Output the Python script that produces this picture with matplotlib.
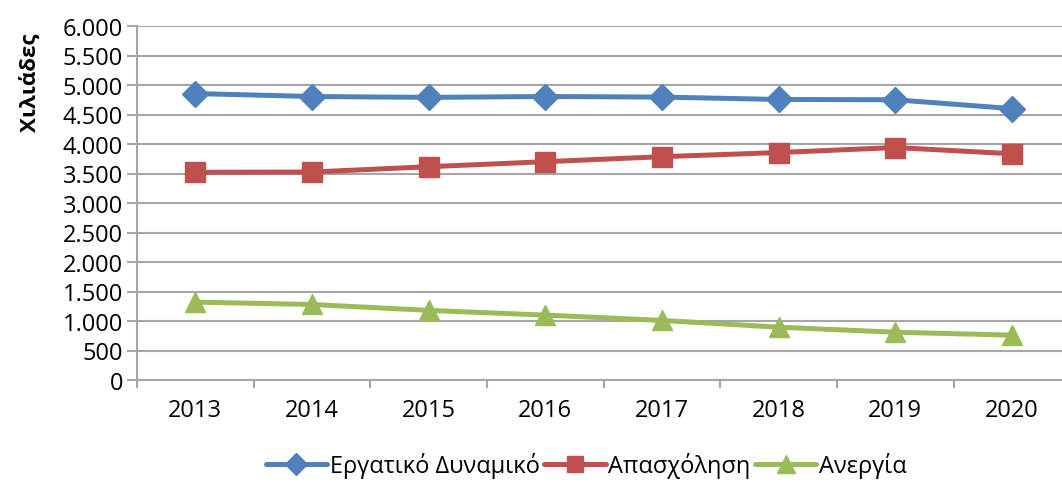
import matplotlib.pyplot as plt
from matplotlib.ticker import FuncFormatter, FixedLocator

years = ['2013', '2014', '2015', '2016', '2017', '2018', '2019', '2020']
ergatiko = [4855, 4805, 4790, 4805, 4795, 4755, 4750, 4600]
apasxolisi = [3520, 3525, 3615, 3700, 3785, 3855, 3940, 3835]
anergia = [1320, 1280, 1180, 1100, 1010, 895, 810, 760]

plt.rcParams['font.family'] = ['Open Sans', 'DejaVu Sans']

grid_c = '#A6A6A6'
fs = 17
fig = plt.figure(figsize=(10.62, 4.89), dpi=100)
ax = fig.add_axes([137 / 1062, 108 / 489, 925 / 1062, 354 / 489])

x = list(range(len(years)))
ax.plot(x, ergatiko, color='#4F81BD', lw=3.6, marker='D', ms=13.5,
        label='Εργατικό Δυναμικό', solid_capstyle='round')
ax.plot(x, apasxolisi, color='#C0504D', lw=3.6, marker='s', ms=14,
        label='Απασχόληση', solid_capstyle='round')
ax.plot(x, anergia, color='#9BBB59', lw=3.6, marker='^', ms=14.5,
        label='Ανεργία', solid_capstyle='round')

ax.set_ylim(0, 6000)
ax.set_xlim(-0.5, 7.43)
ax.set_yticks(range(0, 6001, 500))
ax.yaxis.set_major_formatter(FuncFormatter(lambda v, p: f'{int(v):,}'.replace(',', '.')))
ax.set_xticks(x)
ax.set_xticklabels(years)
ax.xaxis.set_minor_locator(FixedLocator([i + 0.5 for i in range(-1, 8)]))
ax.tick_params(axis='x', which='major', length=0, pad=13, labelsize=fs)
ax.tick_params(axis='x', which='minor', length=6, width=1.5, color=grid_c)
ax.tick_params(axis='y', length=7, width=1.5, color=grid_c, labelsize=fs, pad=3)
ax.grid(axis='y', color=grid_c, lw=1.5)
ax.set_axisbelow(True)
for s in ['top', 'right']:
    ax.spines[s].set_visible(False)
for s in ['left', 'bottom']:
    ax.spines[s].set_color(grid_c)
    ax.spines[s].set_linewidth(1.5)

fig.text(30 / 1062, 1 - 83 / 489, 'Χιλιάδες', rotation=90, fontsize=16,
         fontweight='bold', ha='center', va='center')

fig.legend(loc='center', bbox_to_anchor=(586 / 1062, 1 - 466 / 489), ncol=3,
           frameon=False, fontsize=fs, handlelength=2.6, handletextpad=0.1,
           columnspacing=0.2, markerscale=0.85)

fig.savefig('out.png', dpi=100)
